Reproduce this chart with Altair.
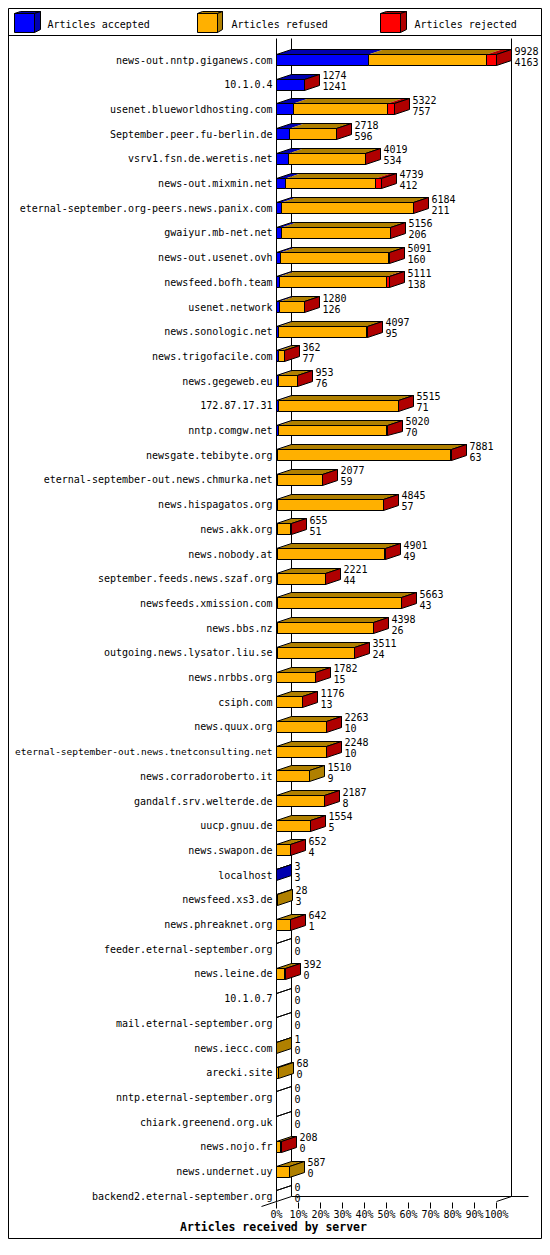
import json
import altair as alt
import pandas as pd

# ---------------- data ----------------
servers = [
    "news-out.nntp.giganews.com", "10.1.0.4", "usenet.blueworldhosting.com",
    "September.peer.fu-berlin.de", "vsrv1.fsn.de.weretis.net", "news-out.mixmin.net",
    "eternal-september.org-peers.news.panix.com", "gwaiyur.mb-net.net",
    "news-out.usenet.ovh", "newsfeed.bofh.team", "usenet.network",
    "news.sonologic.net", "news.trigofacile.com", "news.gegeweb.eu",
    "172.87.17.31", "nntp.comgw.net", "newsgate.tebibyte.org",
    "eternal-september-out.news.chmurka.net", "news.hispagatos.org", "news.akk.org",
    "news.nobody.at", "september.feeds.news.szaf.org", "newsfeeds.xmission.com",
    "news.bbs.nz", "outgoing.news.lysator.liu.se", "news.nrbbs.org", "csiph.com",
    "news.quux.org", "eternal-september-out.news.tnetconsulting.net",
    "news.corradoroberto.it", "gandalf.srv.welterde.de", "uucp.gnuu.de",
    "news.swapon.de", "localhost", "newsfeed.xs3.de", "news.phreaknet.org",
    "feeder.eternal-september.org", "news.leine.de", "10.1.0.7",
    "mail.eternal-september.org", "news.iecc.com", "arecki.site",
    "nntp.eternal-september.org", "chiark.greenend.org.uk", "news.nojo.fr",
    "news.undernet.uy", "backend2.eternal-september.org",
]
offered = [9928, 1274, 5322, 2718, 4019, 4739, 6184, 5156, 5091, 5111, 1280,
           4097, 362, 953, 5515, 5020, 7881, 2077, 4845, 655, 4901, 2221, 5663,
           4398, 3511, 1782, 1176, 2263, 2248, 1510, 2187, 1554, 652, 3, 28, 642,
           0, 392, 0, 0, 1, 68, 0, 0, 208, 587, 0]
accepted = [4163, 1241, 757, 596, 534, 412, 211, 206, 160, 138, 126, 95, 77, 76,
            71, 70, 63, 59, 57, 51, 49, 44, 43, 26, 24, 15, 13, 10, 10, 9, 8, 5,
            4, 3, 3, 1, 0, 0, 0, 0, 0, 0, 0, 0, 0, 0, 0]
refused = [5325, 0, 4270, 2107, 3470, 4047, 5958, 4935, 4916, 4843, 1144, 3987,
           275, 867, 5429, 4890, 7803, 2008, 4773, 594, 4837, 2167, 5605, 4357,
           3477, 1757, 1153, 2243, 2228, 1501, 2169, 1539, 638, 0, 25, 631, 0,
           372, 0, 0, 1, 68, 0, 0, 193, 587, 0]
rejected = [440, 33, 295, 15, 15, 280, 15, 15, 15, 130, 10, 15, 10, 10, 15, 60,
            15, 10, 15, 10, 15, 10, 15, 15, 10, 10, 10, 10, 10, 0, 10, 10, 10, 0,
            0, 10, 0, 20, 0, 0, 0, 0, 0, 0, 15, 0, 0]

segments = ["Articles accepted", "Articles refused", "Articles rejected"]
front_colors = ["#0000ff", "#ffb000", "#ff0000"]
dark_colors = ["#0000b0", "#b08000", "#b00000"]
tick_values = [0, 10, 20, 30, 40, 50, 60, 70, 80, 90, 100]

# ---------------- geometry (3-D look) ----------------
MONO = "DejaVu Sans Mono"
CHART_W, CHART_H = 534, 1231          # whole chart (page adds 8px margins)
PAD_L, PAD_T = 268.5, 30.5            # plot origin inside the chart
PLOT_W, PLOT_H = 264, 1164
PX_X = 2.2                            # pixels per percent
PX_Y = 24.7                           # pixels per row
DX = 15 / PX_X                        # depth, percent units
DY = 5 / PX_Y                         # depth, row units
HALF = 5.5 / PX_Y                     # half bar thickness, row units
N = len(servers)
Y_TOP = 1 - 21.5 / PX_Y
Y_BOT = Y_TOP + PLOT_H / PX_Y
FRONT_BOT = N + HALF
FLOOR = FRONT_BOT - DY
PAGE_X0 = 8 + PAD_L                   # page x of 0 %
PAGE_Y0 = 8 + PAD_T                   # page y of plot top

scale_max = max(offered)

front_rows, top_rows, outline_rows, side_rows, label_rows = [], [], [], [], []
for i, name in enumerate(servers):
    r = i + 1
    vals = [accepted[i], refused[i], rejected[i]]
    start = 0.0
    last = None
    for k, v in enumerate(vals):
        if v <= 0:
            continue
        x1 = start / scale_max * 100
        x2 = (start + v) / scale_max * 100
        key = f"{r}-{k}"
        front_rows.append(dict(x1=x1, x2=x2, y1=r - HALF, y2=r + HALF, col=front_colors[k]))
        top_rows.append(dict(key=key, y=r - HALF, xa=x1, xb=x2, col=dark_colors[k]))
        top_rows.append(dict(key=key, y=r - HALF - DY, xa=x1 + DX, xb=x2 + DX, col=dark_colors[k]))
        start += v
        last = k
    t = start / scale_max * 100
    outline_rows.append(dict(key=r, y=r - HALF, xa=0.0, xb=t))
    outline_rows.append(dict(key=r, y=r - HALF - DY, xa=DX, xb=t + DX))
    if last is not None:
        side_rows.append(dict(key=r, x=t, ya=r + HALF, yb=r - HALF, col=dark_colors[last]))
        side_rows.append(dict(key=r, x=t + DX, ya=r + HALF - DY, yb=r - HALF - DY, col=dark_colors[last]))
    label_rows.append(dict(row=r, xl=t + DX, top=str(offered[i]), bottom=str(accepted[i])))

front_df = pd.DataFrame(front_rows)
top_df = pd.DataFrame(top_rows)
outline_df = pd.DataFrame(outline_rows)
side_df = pd.DataFrame(side_rows)
label_df = pd.DataFrame(label_rows)

walls_df = pd.DataFrame([
    dict(x=DX, x2=DX, y=Y_TOP, y2=FLOOR),
    dict(x=100 + DX, x2=100 + DX, y=Y_TOP, y2=FLOOR),
    dict(x=DX, x2=100 + DX + 16.5 / PX_X, y=FLOOR, y2=FLOOR),
    dict(x=-DX, x2=DX, y=FLOOR + 2 * DY, y2=FLOOR),
    dict(x=100, x2=100 + DX, y=FRONT_BOT, y2=FLOOR),
])

# legend built from the category arrays (page pixel -> data units)
def ux(px):
    return (px - PAGE_X0) / PX_X

def uy(py):
    return Y_TOP + (py - PAGE_Y0) / PX_Y

legend_left = [14, 197, 380]
leg_front, leg_top, leg_side, leg_text = [], [], [], []
for k, lab in enumerate(segments):
    L = legend_left[k]
    leg_front.append(dict(x1=ux(L), x2=ux(L + 20), y1=uy(14), y2=uy(32), col=front_colors[k]))
    leg_top.append(dict(key=k, y=uy(14), xa=ux(L), xb=ux(L + 20), col=dark_colors[k]))
    leg_top.append(dict(key=k, y=uy(11), xa=ux(L + 6), xb=ux(L + 26), col=dark_colors[k]))
    leg_side.append(dict(key=k, x=ux(L + 20), ya=uy(32), yb=uy(14), col=dark_colors[k]))
    leg_side.append(dict(key=k, x=ux(L + 26), ya=uy(29), yb=uy(11), col=dark_colors[k]))
    leg_text.append(dict(x=ux(L + 34), y=uy(27), label=lab))

one = pd.DataFrame([{"a": 1}])

xscale = alt.Scale(domain=[0, PLOT_W / PX_X], nice=False, zero=False, round=True)
yscale = alt.Scale(domain=[Y_TOP, Y_BOT], reverse=True, nice=False, zero=False, round=True)

# the longest server names get a slightly smaller font so they stay on the page
long_rows = [i + 1 for i, n in enumerate(servers) if len(n) > 43]
long_test = " || ".join(f"datum.value == {r}" for r in long_rows) or "false"

y_axis = alt.Axis(
    values=list(range(1, N + 1)),
    labelExpr=json.dumps(servers) + "[datum.value - 1]",
    domain=True, domainColor="black", domainWidth=1, ticks=False, grid=False,
    labelFont=MONO, labelColor="black", labelPadding=4,
    labelFontSize={"condition": {"test": long_test, "value": 9.5}, "value": 10},
    labelBaseline="alphabetic", labelOffset=3.5, labelFlush=False,
    labelOverlap=False, labelLimit=400, title="", translate=0,
)
x_axis = alt.Axis(
    values=tick_values, labelExpr="datum.value + '%'",
    domain=False, ticks=True, tickSize=6, tickColor="black", tickWidth=1,
    grid=False, labelFont=MONO, labelFontSize=10, labelColor="black",
    labelPadding=1, labelFlush=False, labelOverlap=False, translate=0,
    title="Articles received by server", titleFont=MONO, titleFontSize=11.5,
    titleFontWeight="bold", titleColor="black", titleX=-3, titleY=28,
    titleBaseline="alphabetic", titleAlign="center",
)


def X(f, **kw):
    return alt.X(f, type="quantitative", scale=xscale, axis=x_axis, **kw)


def Y(f, **kw):
    return alt.Y(f, type="quantitative", scale=yscale, axis=y_axis, **kw)


frame = alt.Chart(one).mark_rect(fillOpacity=0, stroke="black", strokeWidth=1).encode(
    x=alt.value(0.5 - PAD_L), x2=alt.value(CHART_W - 0.5 - PAD_L),
    y=alt.value(0.5 - PAD_T), y2=alt.value(CHART_H - 0.5 - PAD_T))
separator = alt.Chart(one).mark_rule(color="black", strokeWidth=1).encode(
    x=alt.value(0.5 - PAD_L), x2=alt.value(CHART_W - 0.5 - PAD_L), y=alt.value(-3))

walls = alt.Chart(walls_df).mark_rule(color="black", strokeWidth=1).encode(
    x=X("x"), x2="x2", y=Y("y"), y2="y2")

tops = alt.Chart(top_df).mark_area(orient="horizontal", strokeWidth=0).encode(
    y=Y("y"), x=X("xa", stack=False), x2="xb",
    fill=alt.Fill("col:N", scale=None), detail="key:N")

top_outline = alt.Chart(outline_df).mark_area(
    orient="horizontal", fillOpacity=0, stroke="black", strokeWidth=1).encode(
    y=Y("y"), x=X("xa", stack=False), x2="xb", detail="key:N")

sides = alt.Chart(side_df).mark_area(orient="vertical", stroke="black", strokeWidth=1).encode(
    x=X("x"), y=Y("ya", stack=False), y2="yb",
    fill=alt.Fill("col:N", scale=None), detail="key:N")

fronts = alt.Chart(front_df).mark_rect(stroke="black", strokeWidth=1).encode(
    x=X("x1"), x2="x2", y=Y("y1"), y2="y2",
    fill=alt.Fill("col:N", scale=None))

txt_top = alt.Chart(label_df).mark_text(
    align="left", baseline="alphabetic", dx=3, dy=-5.5, font=MONO, fontSize=10,
    color="black").encode(x=X("xl"), y=Y("row"), text="top:N")
txt_bot = alt.Chart(label_df).mark_text(
    align="left", baseline="alphabetic", dx=3, dy=5, font=MONO, fontSize=10,
    color="black").encode(x=X("xl"), y=Y("row"), text="bottom:N")

lg_front = alt.Chart(pd.DataFrame(leg_front)).mark_rect(stroke="black", strokeWidth=1).encode(
    x=X("x1"), x2="x2", y=Y("y1"), y2="y2", fill=alt.Fill("col:N", scale=None))
lg_top = alt.Chart(pd.DataFrame(leg_top)).mark_area(
    orient="horizontal", stroke="black", strokeWidth=1).encode(
    y=Y("y"), x=X("xa", stack=False), x2="xb",
    fill=alt.Fill("col:N", scale=None), detail="key:N")
lg_side = alt.Chart(pd.DataFrame(leg_side)).mark_area(
    orient="vertical", stroke="black", strokeWidth=1).encode(
    x=X("x"), y=Y("ya", stack=False), y2="yb",
    fill=alt.Fill("col:N", scale=None), detail="key:N")
lg_text = alt.Chart(pd.DataFrame(leg_text)).mark_text(
    align="left", baseline="alphabetic", font=MONO, fontSize=10, color="black").encode(
    x=X("x"), y=Y("y"), text="label:N")

chart = alt.layer(
    frame, separator, walls, tops, top_outline, sides, fronts, txt_top, txt_bot,
    lg_front, lg_top, lg_side, lg_text,
).properties(
    width=PLOT_W, height=PLOT_H, autosize="none",
    padding={"left": PAD_L, "top": PAD_T,
             "right": CHART_W - PAD_L - PLOT_W, "bottom": CHART_H - PAD_T - PLOT_H},
).configure_view(strokeWidth=0)

chart.save("out.html", embed_options={"renderer": "svg", "actions": False})
